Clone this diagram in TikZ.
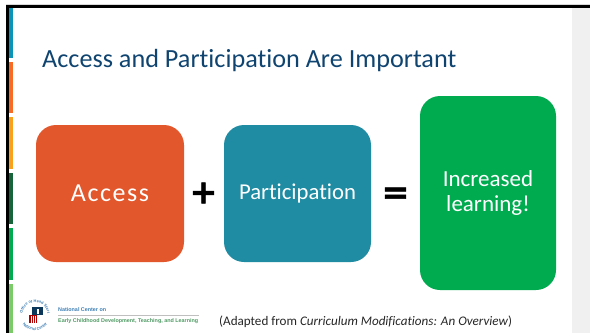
\documentclass[tikz,border=0pt]{standalone}
\usepackage{fontspec}
\setmainfont[Ligatures=NoCommon]{Carlito}
\newfontfamily\logofont{Liberation Sans}
\newfontfamily\symbolfont[FakeBold=1.5]{DejaVu Sans Bold}
\usetikzlibrary{decorations.text}
\definecolor{titleblue}{HTML}{0F4470}
\definecolor{accessred}{HTML}{E2572B}
\definecolor{partblue}{HTML}{1F8CA3}
\definecolor{learngreen}{HTML}{00AB50}
\definecolor{barblue}{HTML}{0B93B8}
\definecolor{barorange}{HTML}{F76B24}
\definecolor{baryellow}{HTML}{F9A11B}
\definecolor{bardark}{HTML}{17633A}
\definecolor{barlight}{HTML}{7CCB69}
\definecolor{panelgray}{HTML}{F0F0F0}
\definecolor{logoblue}{HTML}{3E7FB5}
\definecolor{logogreen}{HTML}{4E9A63}
\tikzset{
    bluebox/.style={rounded corners=20pt, fill=#1, text=white, align=center, inner sep=0pt},
    symbolnode/.style={font=\symbolfont\fontsize{33}{33}\selectfont, inner sep=0pt},
    barpiece/.style={fill=#1, draw=none},
    logotext/.style={anchor=west, inner sep=0pt, font=\logofont\bfseries\fontsize{5.4}{6}\selectfont},
}
\begin{document}
\begin{tikzpicture}[x=1pt, y=-1pt]
        \useasboundingbox (0,0) rectangle (590,333);
        % frame and side panel
        \fill[panelgray] (572,7) rectangle (590,333);
        \fill[black!15] (6,4) rectangle (590,5);
        \fill[black] (6,5) rectangle (590,8);
        \fill[black] (6,5) rectangle (8.5,333);
        % colour bar
        \path[barpiece=barblue] (9,8) rectangle (13,58);
        \path[barpiece=barorange] (9,62) rectangle (13,113);
        \path[barpiece=baryellow] (9,117) rectangle (13,169);
        \path[barpiece=bardark] (9,173) rectangle (13,224);
        \path[barpiece=learngreen] (9,228) rectangle (13,280);
        \path[barpiece=barlight] (9,284) rectangle (13,333);
        % title
        \node[anchor=west, inner sep=0pt, text=titleblue, font=\fontsize{26.2}{30}\selectfont] (title) at (42,61) {Access and Participation Are Important};
        % boxes
        \node[bluebox=accessred, minimum width=148pt, minimum height=137pt, font=\fontsize{26}{30}\selectfont\addfontfeature{LetterSpace=6}] (access) at (110,193.5) {Access};
        \node[bluebox=partblue, minimum width=147pt, minimum height=137pt, font=\fontsize{22.7}{27}\selectfont] (participation) at (297.5,193.5) {Participation};
        \node[bluebox=learngreen, minimum width=136pt, minimum height=194pt, font=\fontsize{23}{25}\selectfont] (learning) at (488,193) {Increased\\learning!};
        \node[symbolnode] (plus) at (203.5,193) {+};
        \node[symbolnode] (equals) at (395.5,195.5) {=};
        % logo
        \draw[black!25, line width=0.3pt] (58,315.5) -- (199,315.5);
        \node[logotext, text=logoblue] (center) at (58,310) {National Center on};
        \node[logotext, text=logogreen] (early) at (58,321) {Early Childhood Development, Teaching, and Learning};
        \begin{scope}[shift={(35,315)}, y=1pt]
            \path[decorate, decoration={text along path, text align=center, text={|\logofont\bfseries\fontsize{3.9}{5}\selectfont\color{logoblue}|Office of Head Start}}] (200:12.5) arc[start angle=200, end angle=-20, radius=12.5];
            \path[decorate, decoration={text along path, text align=center, text={|\logofont\bfseries\fontsize{3.9}{5}\selectfont\color{logoblue}|National Center}}] (205:15.5) arc[start angle=205, end angle=335, radius=15.5];
        \end{scope}
        \fill[titleblue!80!black] (32,307) rectangle (43,315);
        \fill[white] (36.5,309) rectangle (38.5,314);
        \fill[red!70!black] (29,315) rectangle (37,323);
        \foreach \i in {30.5,32.5,34.5}
            \fill[white] (\i,316) rectangle ++(0.9,6.5);
        % source note
        \node[anchor=west, inner sep=0pt, font=\fontsize{13.1}{15}\selectfont, text=black!85] (source) at (219,321.5) {(Adapted from \textit{Curriculum Modifications: An Overview})};
\end{tikzpicture}
\end{document}
